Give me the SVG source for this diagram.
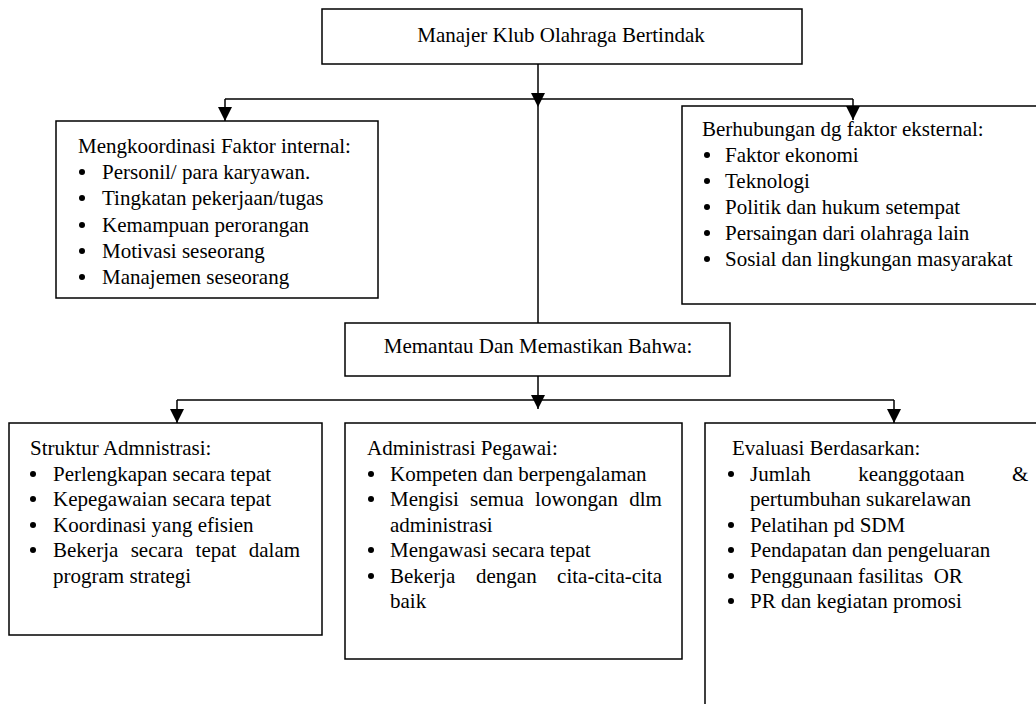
<svg xmlns="http://www.w3.org/2000/svg" width="1036" height="704" viewBox="0 0 1036 704">
<style>
.box{fill:#fff;stroke:#000;stroke-width:1.5}
.t{font-family:"Liberation Serif","Times New Roman",serif;font-size:21px;fill:#000}
.c{text-anchor:middle}
.dot{fill:#000}
.ln{fill:none;stroke:#000;stroke-width:1.5}
</style>
<defs>
<marker id="ah" viewBox="0 0 10 10" refX="10" refY="5" markerWidth="15" markerHeight="14" markerUnits="userSpaceOnUse" orient="auto">
<path d="M0,0 L10,5 L0,10 z" fill="#000"/>
</marker>
</defs>
<rect width="1036" height="704" fill="#fff"/>

<g id="n-manajer">
<rect class="box" x="322" y="9" width="480" height="55"/>
<text class="t c" x="561" y="42">Manajer Klub Olahraga Bertindak</text>
</g>

<g id="n-internal">
<rect class="box" x="56" y="121" width="322" height="177"/>
<text class="t" x="78" y="153">Mengkoordinasi Faktor internal:</text>
<circle class="dot" cx="82" cy="172" r="3"/><text class="t" x="102" y="179">Personil/ para karyawan.</text>
<circle class="dot" cx="82" cy="198" r="3"/><text class="t" x="102" y="205">Tingkatan pekerjaan/tugas</text>
<circle class="dot" cx="82" cy="225" r="3"/><text class="t" x="102" y="232">Kemampuan perorangan</text>
<circle class="dot" cx="82" cy="251" r="3"/><text class="t" x="102" y="258">Motivasi seseorang</text>
<circle class="dot" cx="82" cy="277" r="3"/><text class="t" x="102" y="284">Manajemen seseorang</text>
</g>

<g id="n-eksternal">
<rect class="box" x="682" y="106" width="400" height="198"/>
<text class="t" x="702" y="136">Berhubungan dg faktor eksternal:</text>
<circle class="dot" cx="707" cy="155" r="3"/><text class="t" x="725" y="162">Faktor ekonomi</text>
<circle class="dot" cx="707" cy="181" r="3"/><text class="t" x="725" y="188">Teknologi</text>
<circle class="dot" cx="707" cy="207" r="3"/><text class="t" x="725" y="214">Politik dan hukum setempat</text>
<circle class="dot" cx="707" cy="233" r="3"/><text class="t" x="725" y="240">Persaingan dari olahraga lain</text>
<circle class="dot" cx="707" cy="259" r="3"/><text class="t" x="725" y="266">Sosial dan lingkungan masyarakat</text>
</g>

<g id="n-memantau">
<rect class="box" x="345" y="323" width="385" height="53"/>
<text class="t c" x="538" y="353">Memantau Dan Memastikan Bahwa:</text>
</g>

<g id="n-struktur">
<rect class="box" x="9" y="423" width="313" height="212"/>
<text class="t" x="30" y="455">Struktur Admnistrasi:</text>
<circle class="dot" cx="33" cy="474" r="3"/><text class="t" x="53" y="481">Perlengkapan secara tepat</text>
<circle class="dot" cx="33" cy="499" r="3"/><text class="t" x="53" y="506">Kepegawaian secara tepat</text>
<circle class="dot" cx="33" cy="525" r="3"/><text class="t" x="53" y="532">Koordinasi yang efisien</text>
<circle class="dot" cx="33" cy="550" r="3"/><text class="t" x="53" y="557">Bekerja</text><text class="t" x="130.7" y="557">secara</text><text class="t" x="195.6" y="557">tepat</text><text class="t" x="248.8" y="557">dalam</text>
<text class="t" x="53" y="583">program strategi</text>
</g>

<g id="n-pegawai">
<rect class="box" x="345" y="423" width="337" height="236"/>
<text class="t" x="367" y="455">Administrasi Pegawai:</text>
<circle class="dot" cx="371" cy="474" r="3"/><text class="t" x="390" y="481">Kompeten dan berpengalaman</text>
<circle class="dot" cx="371" cy="499" r="3"/><text class="t" x="390" y="506">Mengisi</text><text class="t" x="470.1" y="506">semua</text><text class="t" x="535.1" y="506">lowongan</text><text class="t" x="629.2" y="506">dlm</text>
<text class="t" x="390" y="532">administrasi</text>
<circle class="dot" cx="371" cy="550" r="3"/><text class="t" x="390" y="557">Mengawasi secara tepat</text>
<circle class="dot" cx="371" cy="576" r="3"/><text class="t" x="390" y="583">Bekerja</text><text class="t" x="476" y="583">dengan</text><text class="t" x="557.1" y="583">cita-cita-cita</text>
<text class="t" x="390" y="608">baik</text>
</g>

<g id="n-evaluasi">
<rect class="box" x="705" y="423" width="400" height="400"/>
<text class="t" x="732" y="455">Evaluasi Berdasarkan:</text>
<circle class="dot" cx="731" cy="474" r="3"/><text class="t" x="750" y="481">Jumlah</text><text class="t" x="858.3" y="481">keanggotaan</text><text class="t" x="1012" y="481">&amp;</text>
<text class="t" x="750" y="506">pertumbuhan sukarelawan</text>
<circle class="dot" cx="731" cy="525" r="3"/><text class="t" x="750" y="532">Pelatihan pd SDM</text>
<circle class="dot" cx="731" cy="550" r="3"/><text class="t" x="750" y="557">Pendapatan dan pengeluaran</text>
<circle class="dot" cx="731" cy="576" r="3"/><text class="t" x="750" y="583" xml:space="preserve">Penggunaan fasilitas  OR</text>
<circle class="dot" cx="731" cy="601" r="3"/><text class="t" x="750" y="608">PR dan kegiatan promosi</text>
</g>

<g id="connectors">
<path class="ln" d="M538,64 V107" marker-end="url(#ah)"/>
<path class="ln" d="M538,107 V323"/>
<path class="ln" d="M225,99 H853"/>
<path class="ln" d="M225,99 V121" marker-end="url(#ah)"/>
<path class="ln" d="M853,99 V120" marker-end="url(#ah)"/>
<path class="ln" d="M538,376 V409" marker-end="url(#ah)"/>
<path class="ln" d="M177,400 H894"/>
<path class="ln" d="M177,400 V423" marker-end="url(#ah)"/>
<path class="ln" d="M894,400 V423" marker-end="url(#ah)"/>
</g>
</svg>
